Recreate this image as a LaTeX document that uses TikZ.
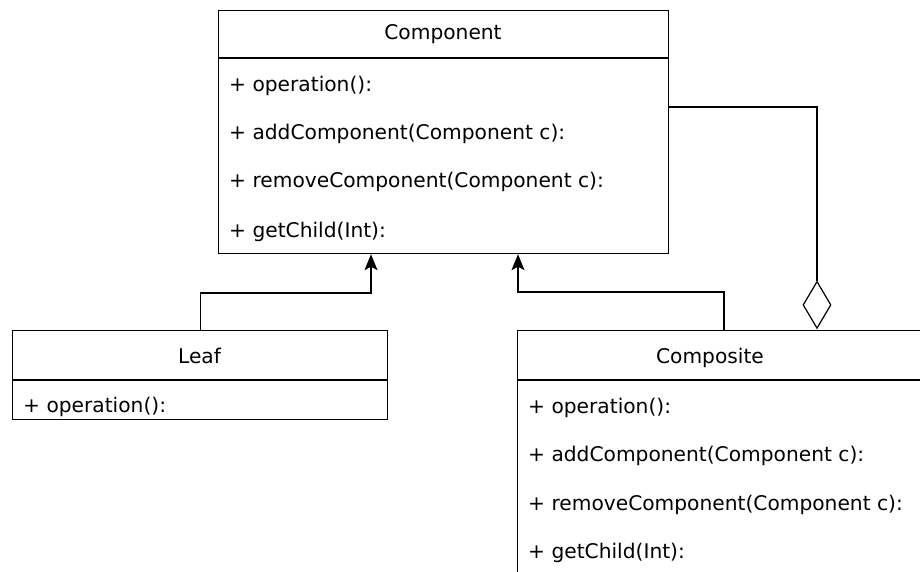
\documentclass[tikz,border=0pt]{standalone}
\usepackage{fontspec}
\setmainfont{DejaVu Sans}
\usetikzlibrary{arrows.meta,shapes.geometric}
\begin{document}
\begin{tikzpicture}[x={(1pt,0)},y={(0,-1pt)},
  cls/.style={draw=black,line width=1.2pt,rectangle,anchor=north west,inner sep=0pt},
  txt/.style={anchor=base west,inner sep=0pt,font=\fontsize{20.2}{24}\selectfont,text=black},
  ttl/.style={anchor=base,inner sep=0pt,font=\fontsize{20.2}{24}\selectfont,text=black},
  sep/.style={draw=black,line width=1.2pt},
  inh/.style={draw=black,line width=1.2pt,-{Stealth[length=16pt,width=13pt,inset=3.5pt]}},
  agg/.style={draw=black,line width=1.2pt}]
\useasboundingbox (0,0) rectangle (920,572);
\clip (0,0) rectangle (920,572);
% Component
\node[cls,minimum width=450pt,minimum height=243pt] (comp) at (218,10) {};
\draw[sep] (comp.west |- 0,58) -- (comp.east |- 0,58);
\node[ttl] (compT) at (443,40) {Component};
\node[txt] (c1) at (229,92) {+ operation():};
\node[txt] (c2) at (229,140) {+ addComponent(Component c):};
\node[txt] (c3) at (229,188) {+ removeComponent(Component c):};
\node[txt] (c4) at (229,237) {+ getChild(Int):};
% Leaf
\node[cls,minimum width=375pt,minimum height=89pt] (leaf) at (12,330) {};
\draw[sep] (leaf.west |- 0,380) -- (leaf.east |- 0,380);
\node[ttl] (leafT) at (199.5,363) {Leaf};
\node[txt] (l1) at (23,412) {+ operation():};
% Composite
\node[cls,minimum width=430pt,minimum height=270pt] (compo) at (517,330) {};
\draw[sep] (compo.west |- 0,380) -- (compo.east |- 0,380);
\node[ttl] (compoT) at (710,363) {Composite};
\node[txt] (k1) at (528,413) {+ operation():};
\node[txt] (k2) at (528,461) {+ addComponent(Component c):};
\node[txt] (k3) at (528,510) {+ removeComponent(Component c):};
\node[txt] (k4) at (528,558) {+ getChild(Int):};
% diamond
\node[draw=black,line width=1.2pt,diamond,inner sep=0pt,minimum width=28pt,minimum height=47pt,anchor=south] (dia) at (817,329) {};
% connectors
\draw[inh] (leaf.north) |- (371,293) -- (371,0 |- comp.south);
\draw[inh] (724,0 |- compo.north) |- (518,292) -- (518,0 |- comp.south);
\draw[agg] (comp.east |- 0,107) -| (dia.north);
\end{tikzpicture}
\end{document}
